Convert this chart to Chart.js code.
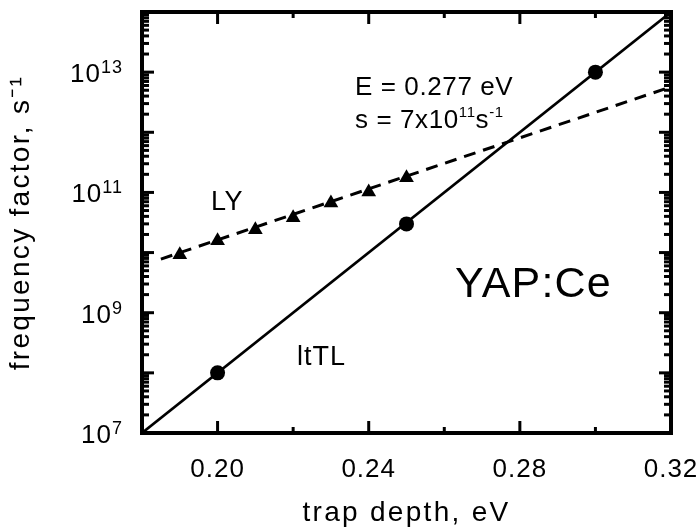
<!DOCTYPE html>
<html><head><meta charset="utf-8">
<script src="https://cdn.jsdelivr.net/npm/chart.js@4/dist/chart.umd.min.js"></script>
<style>html,body{margin:0;padding:0;background:#fff;overflow:hidden}canvas{display:block}</style>
</head><body>
<canvas id="c" width="698" height="531"></canvas>
<script>
// ---- data ----
const lyDepth = [0.19, 0.20, 0.21, 0.22, 0.23, 0.24, 0.25];
const lyFreq = [9.2e9, 1.57e10, 2.4e10, 3.8e10, 6.7e10, 1.02e11, 1.75e11];
const lttlDepth = [0.20, 0.25, 0.30];
const lttlFreq = [1e8, 3e10, 1e13];
const lyFitDepth = [0.185, 0.32];
const lyFitFreq = [7.8e9, 5.7e12];
const lttlFitDepth = [0.18, 0.32];
const lttlFitFreq = [1e7, 1e14];
const xTickValues = [0.20, 0.24, 0.28, 0.32];
const xMinorTickValues = [0.22, 0.26, 0.30];
const yTickExponents = [7, 9, 11, 13];

const FONT = '"Liberation Sans", Arial, Helvetica, sans-serif';
const SUP = {'0':'⁰','1':'¹','2':'²','3':'³','4':'⁴','5':'⁵','6':'⁶','7':'⁷','8':'⁸','9':'⁹','-':'⁻'};
const sup = s => String(s).split('').map(c => SUP[c] || c).join('');
const pts = (xs, ys) => xs.map((x, i) => ({x, y: ys[i]}));

// titles with wider letter spacing
const origDrawTitle = Chart.Scale.prototype.drawTitle;
Chart.Scale.prototype.drawTitle = function () {
  const c = this.ctx; const prev = c.letterSpacing;
  c.letterSpacing = '2.3px';
  origDrawTitle.call(this);
  c.letterSpacing = prev;
};

const spacingPlugin = {
  id: 'spacing',
  beforeUpdate(chart) { chart.ctx.letterSpacing = '1px'; },
  beforeDraw(chart) {
    const c = chart.ctx;
    c.letterSpacing = '1px';
    c.save(); c.fillStyle = '#fff'; c.fillRect(0, 0, chart.width, chart.height); c.restore();
  }
};

const framePlugin = {
  id: 'frame',
  afterDatasetsDraw(chart) {
    const {ctx, chartArea: a, scales: {x, y}} = chart;
    ctx.save();
    ctx.strokeStyle = '#000';
    ctx.lineWidth = 3;
    const seg = (x1, y1, x2, y2) => { ctx.beginPath(); ctx.moveTo(x1, y1); ctx.lineTo(x2, y2); ctx.stroke(); };
    xTickValues.forEach(v => { const p = x.getPixelForValue(v); seg(p, a.bottom, p, a.bottom - 12); seg(p, a.top, p, a.top + 12); });
    xMinorTickValues.forEach(v => { const p = x.getPixelForValue(v); seg(p, a.bottom, p, a.bottom - 6); seg(p, a.top, p, a.top + 6); });
    const e0 = Math.round(Math.log10(y.min)), e1 = Math.round(Math.log10(y.max));
    for (let e = e0; e <= e1; e++) {
      const p = y.getPixelForValue(Math.pow(10, e));
      seg(a.left, p, a.left + 12, p); seg(a.right, p, a.right - 12, p);
      if (e < e1) for (let m = 2; m <= 9; m++) {
        const q = y.getPixelForValue(m * Math.pow(10, e));
        seg(a.left, q, a.left + 7, q); seg(a.right, q, a.right - 7, q);
      }
    }
    ctx.lineWidth = 4;
    ctx.strokeRect(a.left, a.top, a.right - a.left, a.bottom - a.top);
    ctx.restore();
  }
};

function rich(ctx, x, y, parts, size, supSize, ls, rise) {
  parts.forEach(p => {
    ctx.font = (p.s ? supSize : size) + 'px ' + FONT;
    ctx.letterSpacing = ls;
    ctx.fillText(p.t, x, p.s ? y - rise : y);
    x += ctx.measureText(p.t).width;
  });
}
function richWidth(ctx, parts, size, supSize, ls) {
  let w = 0;
  parts.forEach(p => { ctx.font = (p.s ? supSize : size) + 'px ' + FONT; ctx.letterSpacing = ls; w += ctx.measureText(p.t).width; });
  return w;
}

const annotPlugin = {
  id: 'annot',
  afterDraw(chart) {
    const {ctx, chartArea: a, scales: {y}} = chart;
    ctx.save();
    ctx.fillStyle = '#000';
    ctx.textBaseline = 'alphabetic';
    ctx.textAlign = 'left';
    // y tick labels (powers of ten) placed by the log scale
    y.ticks.forEach(t => {
      const e = Math.round(Math.log10(t.value));
      const parts = [{t: '10'}, {t: String(e), s: 1}];
      const w = richWidth(ctx, parts, 26, 18, '1px');
      const py = y.getPixelForValue(t.value);
      rich(ctx, a.left - 19 - w, py + 10, parts, 26, 18, '1px', 9);
    });
    const L = a.left, T = a.top;
    rich(ctx, L + 213, T + 83, [{t: 'E = 0.277 eV'}], 26, 15, '0.6px', 11);
    rich(ctx, L + 213, T + 116, [{t: 's = 7x10'}, {t: '11', s: 1}, {t: 's'}, {t: '-1', s: 1}], 26, 15, '0.6px', 11);
    rich(ctx, L + 69, T + 198, [{t: 'LY'}], 27, 15, '0.5px', 11);
    rich(ctx, L + 155, T + 353, [{t: 'ltTL'}], 27, 15, '1px', 11);
    rich(ctx, L + 313, T + 285, [{t: 'YAP:Ce'}], 43, 15, '1.2px', 11);
    ctx.restore();
  }
};

new Chart(document.getElementById('c'), {
  type: 'scatter',
  data: {
    datasets: [
      {label: 'LY', data: pts(lyDepth, lyFreq), pointStyle: 'triangle', pointRadius: 8.5, pointHoverRadius: 8.5,
       backgroundColor: '#000', borderColor: '#000', borderWidth: 0, showLine: false},
      {label: 'ltTL', data: pts(lttlDepth, lttlFreq), pointStyle: 'circle', pointRadius: 7.5, pointHoverRadius: 7.5,
       backgroundColor: '#000', borderColor: '#000', borderWidth: 0, showLine: false},
      {label: 'LY fit', data: pts(lyFitDepth, lyFitFreq), showLine: true, borderColor: '#000', borderWidth: 3,
       borderDash: [12, 8], pointRadius: 0, pointHoverRadius: 0, fill: false},
      {label: 'ltTL fit', data: pts(lttlFitDepth, lttlFitFreq), showLine: true, borderColor: '#000', borderWidth: 2.6,
       pointRadius: 0, pointHoverRadius: 0, fill: false}
    ]
  },
  options: {
    responsive: false,
    animation: false,
    devicePixelRatio: 1,
    events: [],
    layout: {padding: {top: 12, right: 27, bottom: 0, left: 0}},
    plugins: {legend: {display: false}, tooltip: {enabled: false}},
    scales: {
      x: {
        type: 'linear', min: 0.18, max: 0.32,
        grid: {display: false}, border: {display: false},
        afterBuildTicks: s => { s.ticks = xTickValues.map(v => ({value: v})); },
        afterFit: s => { s.height = 98; s.paddingLeft = 0; s.paddingRight = 0; },
        ticks: {color: '#000', padding: 13, maxRotation: 0, autoSkip: false,
                font: {family: FONT, size: 26}, callback: v => Number(v).toFixed(2)},
        title: {display: true, text: 'trap depth, eV', color: '#000',
                font: {family: FONT, size: 28}, padding: {top: 0, bottom: 1}}
      },
      y: {
        type: 'logarithmic', min: 1e7, max: 1e14,
        grid: {display: false}, border: {display: false},
        afterBuildTicks: s => { s.ticks = yTickExponents.map(e => ({value: Math.pow(10, e)})); },
        afterFit: s => { s.width = 142; s.paddingTop = 0; s.paddingBottom = 0; },
        ticks: {display: false, autoSkip: false,
                callback: v => '10' + sup(Math.round(Math.log10(v)))},
        title: {display: true, text: 'frequency factor, s' + sup('-1'), color: '#000',
                font: {family: FONT, size: 28}, padding: {top: 4, bottom: 0}}
      }
    }
  },
  plugins: [spacingPlugin, framePlugin, annotPlugin]
});
</script>
</body></html>
